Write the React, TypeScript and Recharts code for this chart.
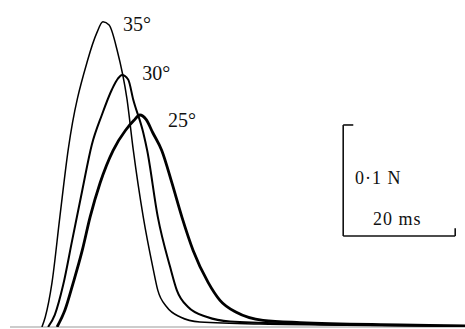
import { LineChart, Line, XAxis, YAxis, ReferenceLine, ReferenceDot } from 'recharts';

// time (ms) and force (N)
const t35 = [5.7, 6.3, 7.5, 8.9, 10.4, 13.9, 15.5, 16.6, 17.7, 19.1, 20.9, 22.0, 23.8, 25.5, 26.4, 28.0, 30.4, 33.9, 44.6, 81.25];
const f35 = [0, 0.009, 0.04, 0.099, 0.16, 0.241, 0.265, 0.275, 0.272, 0.25, 0.205, 0.16, 0.099, 0.054, 0.033, 0.018, 0.009, 0.0045, 0.0027, 0.0009];

const t30 = [6.8, 8.0, 9.5, 11.1, 12.9, 14.6, 16.4, 18.2, 19.3, 20.0, 21.1, 22.0, 23.8, 24.5, 26.4, 28.6, 29.8, 31.8, 35.2, 39.3, 51.8, 81.25];
const f30 = [0, 0.011, 0.038, 0.078, 0.123, 0.164, 0.191, 0.214, 0.224, 0.227, 0.223, 0.205, 0.175, 0.159, 0.099, 0.054, 0.033, 0.018, 0.009, 0.005, 0.003, 0.001];

const t25 = [8.4, 9.8, 11.3, 12.9, 14.3, 16.1, 18.4, 20.6, 22.1, 23.2, 24.3, 25.5, 27.1, 28.9, 30.7, 32.7, 35.4, 37.5, 40.5, 45.2, 51.8, 69.6, 81.25];
const f25 = [0, 0.015, 0.04, 0.069, 0.099, 0.13, 0.159, 0.177, 0.186, 0.191, 0.187, 0.175, 0.159, 0.13, 0.099, 0.069, 0.04, 0.024, 0.013, 0.006, 0.004, 0.002, 0.001];

const angleLabels = ['35°', '30°', '25°'];
const labelT = [20.2, 23.6, 28.2];
const labelF = [0.273, 0.229, 0.187];

// scale bar: 0.1 N by 20 ms
const barT = 59.5;
const barF = 0.082;
const barForce = 0.1;
const barTime = 20;

const zip = (t: number[], f: number[]) => t.map((v, i) => ({ t: v, f: f[i] }));
const d35 = zip(t35, f35);
const d30 = zip(t30, f30);
const d25 = zip(t25, f25);

const font = { fontFamily: '"Liberation Serif", "DejaVu Serif", serif', fill: '#111' };

export default function App() {
  return (
    <div style={{ position: 'absolute', left: 0, top: 0, background: '#fff' }}>
      <LineChart width={465} height={329} margin={{ top: 0, right: 0, bottom: 2, left: 10 }}>
        <XAxis dataKey="t" type="number" domain={[0, 81.25]} hide allowDataOverflow />
        <YAxis type="number" domain={[0, 0.2946]} hide allowDataOverflow width={0} />
        <ReferenceLine y={0} stroke="#999" strokeWidth={1} />
        <Line data={d35} dataKey="f" type="monotone" stroke="#000" strokeWidth={1.5} dot={false} isAnimationActive={false} />
        <Line data={d30} dataKey="f" type="monotone" stroke="#000" strokeWidth={2} dot={false} isAnimationActive={false} />
        <Line data={d25} dataKey="f" type="monotone" stroke="#000" strokeWidth={2.8} dot={false} isAnimationActive={false} />
        {angleLabels.map((lab, i) => (
          <ReferenceDot
            key={lab}
            x={labelT[i]}
            y={labelF[i]}
            r={0}
            fill="none"
            stroke="none"
            label={{ value: lab, position: 'right', offset: 0, fontSize: 20, ...font }}
          />
        ))}
        <ReferenceLine
          segment={[{ x: barT, y: barF + barForce }, { x: barT + 1.8, y: barF + barForce }]}
          stroke="#111"
          strokeWidth={1.6}
        />
        <ReferenceLine
          segment={[{ x: barT, y: barF + barForce }, { x: barT, y: barF }]}
          stroke="#111"
          strokeWidth={1.6}
        />
        <ReferenceLine
          segment={[{ x: barT, y: barF }, { x: barT + barTime, y: barF }]}
          stroke="#111"
          strokeWidth={1.6}
        />
        <ReferenceLine
          segment={[{ x: barT + barTime, y: barF }, { x: barT + barTime, y: barF + 0.007 }]}
          stroke="#111"
          strokeWidth={1.6}
        />
        <ReferenceDot
          x={barT + 2.1}
          y={barF + 0.053}
          r={0}
          fill="none"
          stroke="none"
          label={{ value: '0·1 N', position: 'right', offset: 0, fontSize: 18, letterSpacing: 1, ...font }}
        />
        <ReferenceDot
          x={barT + 5.3}
          y={barF + 0.016}
          r={0}
          fill="none"
          stroke="none"
          label={{ value: '20 ms', position: 'right', offset: 0, fontSize: 18, letterSpacing: 1, ...font }}
        />
      </LineChart>
    </div>
  );
}
